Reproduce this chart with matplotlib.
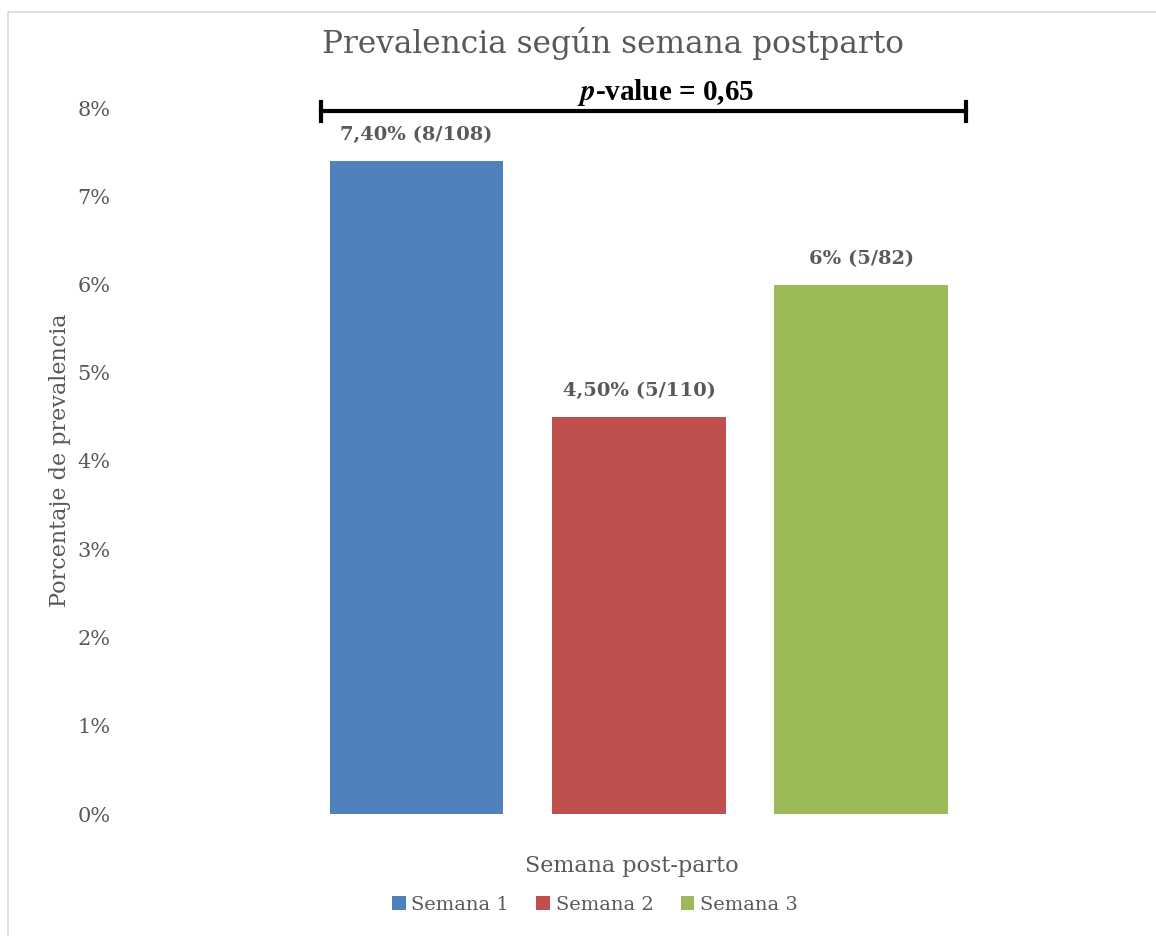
import matplotlib.pyplot as plt
from matplotlib.patches import Rectangle

series = ['Semana 1', 'Semana 2', 'Semana 3']
values = [7.40, 4.50, 6.00]
labels = ['7,40% (8/108)', '4,50% (5/110)', '6% (5/82)']
colors = ['#4F81BD', '#C0504D', '#9BBB59']
yticks = [0, 1, 2, 3, 4, 5, 6, 7, 8]
p_text = '$\\boldsymbol{p}$-value = 0,65'

W, H = 1156, 936
fig = plt.figure(figsize=(W / 100, H / 100), dpi=100)
serif = 'DejaVu Serif'
grey = '#595959'

# light frame around the chart (like the Excel chart area)
fig.patches.append(Rectangle((8 / W, -0.05), 1.0, 1.05 - 12 / H, transform=fig.transFigure,
                             fill=False, edgecolor='#D9D9D9', linewidth=1.2))

# plot area: 0% at y=814px, 8% at y=108px
left, right = 130, 1148
ax = fig.add_axes([left / W, 1 - 814 / H, (right - left) / W, (814 - 108) / H])
unit = 222.5
x = [0, 1, 2]
ax.bar(x, values, width=174 / unit, color=colors, label=series)
ax.set_xlim((left - 416.5) / unit, (right - 416.5) / unit)
ax.set_ylim(0, 8)
ax.set_yticks(yticks)
ax.set_yticklabels([f'{t}%' for t in yticks], fontsize=15, family=serif, color=grey)
ax.set_xticks([])
ax.tick_params(axis='y', length=0, pad=14)
for s in ax.spines.values():
    s.set_visible(False)

for xi, v, lab in zip(x, values, labels):
    ax.annotate(lab, (xi, v), xytext=(0, 12), textcoords='offset points',
                ha='center', va='bottom', fontsize=14, fontweight='bold',
                family=serif, color=grey)

# p-value bracket
y0 = 1 - 111 / H
fig.add_artist(plt.Line2D([321 / W, 966 / W], [y0, y0], color='black', linewidth=3))
for xx in (321, 966):
    fig.add_artist(plt.Line2D([xx / W, xx / W], [1 - 102 / H, 1 - 121 / H],
                              color='black', linewidth=3))
plt.rcParams['mathtext.fontset'] = 'stix'
fig.text(666 / W, 1 - 92 / H, p_text, ha='center', va='center', fontsize=21,
         fontweight='bold', family='Liberation Serif', color='black')

fig.text(613 / W, 1 - 44 / H, 'Prevalencia según semana postparto', ha='center',
         va='center', fontsize=22.5, family=serif, color=grey)
fig.text(60 / W, 1 - 460 / H, 'Porcentaje de prevalencia', ha='center', va='center',
         rotation=90, fontsize=16, family=serif, color=grey)
fig.text(632 / W, 1 - 866 / H, 'Semana post-parto', ha='center', va='center',
         fontsize=16, family=serif, color=grey)

leg = fig.legend(loc='center', bbox_to_anchor=(595 / W, 1 - 905 / H), ncol=3,
                 frameon=False, prop={'family': serif, 'size': 14},
                 handlelength=0.7, handleheight=0.7, handletextpad=0.3,
                 columnspacing=1.4)
for t in leg.get_texts():
    t.set_color(grey)

fig.savefig('out.png', dpi=100)
